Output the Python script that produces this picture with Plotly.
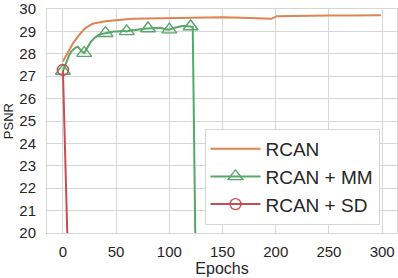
import plotly.graph_objects as go

# RCAN (orange)
rcan_epochs = [0, 2, 4, 6, 8, 10, 12, 14, 16, 18, 20, 22, 25, 28, 31, 35, 40, 45, 50, 55, 60, 66,
               75, 85, 95, 105, 115, 128, 140, 150, 160, 170, 180, 188, 196, 201, 210, 230, 250,
               270, 285, 299]
rcan_psnr = [27.66, 27.85, 28.02, 28.17, 28.35, 28.5, 28.65, 28.77, 28.88, 29.0, 29.1, 29.18, 29.27,
             29.34, 29.38, 29.42, 29.45, 29.47, 29.5, 29.52, 29.54, 29.56, 29.57, 29.58, 29.59, 29.6,
             29.6, 29.6, 29.62, 29.63, 29.62, 29.61, 29.6, 29.58, 29.56, 29.68, 29.69, 29.7, 29.71,
             29.71, 29.72, 29.72]

# RCAN + MM (green)
mm_epochs = [0, 2, 4, 6, 8, 10, 12, 14, 16, 18, 20, 22, 24, 26, 28, 30, 33, 36, 40, 44, 48, 52, 56,
             60, 64, 68, 72, 76, 80, 84, 88, 92, 96, 100, 104, 108, 112, 116, 120, 122, 125]
mm_psnr = [27.23, 27.5, 27.7, 27.95, 28.12, 28.22, 28.28, 28.32, 28.2, 28.1, 28.03, 28.2, 28.38,
           28.52, 28.62, 28.72, 28.82, 28.88, 28.92, 28.96, 28.99, 29.0, 29.03, 29.0, 29.05, 29.06,
           29.1, 29.12, 29.13, 29.14, 29.18, 29.16, 29.1, 29.08, 29.15, 29.2, 29.24, 29.24, 29.22,
           29.2, 17.5]
mm_marker_epochs = [0, 20, 40, 60, 80, 100, 120]

# RCAN + SD (red)
sd_epochs = [0, 5]
sd_psnr = [27.28, 18.4]
sd_marker_epochs = [0]

x_ticks = [0, 50, 100, 150, 200, 250, 300]
y_ticks = [20, 21, 22, 23, 24, 25, 26, 27, 28, 29, 30]

ORANGE = "#dd8452"
GREEN = "#55a868"
RED = "#c44e52"
FONT = "Liberation Sans, Arial, sans-serif"
TXT = "#262626"


def pick(xs, ys, marks):
    px = [x for x in xs if x in marks]
    py = [y for x, y in zip(xs, ys) if x in marks]
    return px, py


fig = go.Figure()
fig.add_trace(go.Scatter(x=rcan_epochs, y=rcan_psnr, mode="lines", name="RCAN",
                         line=dict(color=ORANGE, width=2)))

# MM line + markers
fig.add_trace(go.Scatter(x=mm_epochs, y=mm_psnr, mode="lines", showlegend=False,
                         line=dict(color=GREEN, width=2)))
mx, my = pick(mm_epochs, mm_psnr, mm_marker_epochs)
fig.add_trace(go.Scatter(x=mx, y=my, mode="markers", showlegend=False,
                         marker=dict(symbol="triangle-up-open", color=GREEN, size=13,
                                     line=dict(width=1.4, color=GREEN))))
fig.add_trace(go.Scatter(x=[None], y=[None], mode="lines+markers", name="RCAN + MM",
                         line=dict(color=GREEN, width=2),
                         marker=dict(symbol="triangle-up-open", color=GREEN, size=13,
                                     line=dict(width=1.4, color=GREEN))))

# SD line + markers
fig.add_trace(go.Scatter(x=sd_epochs, y=sd_psnr, mode="lines", showlegend=False,
                         line=dict(color=RED, width=2)))
sx, sy = pick(sd_epochs, sd_psnr, sd_marker_epochs)
fig.add_trace(go.Scatter(x=sx, y=sy, mode="markers", showlegend=False,
                         marker=dict(symbol="circle-open", color=RED, size=11,
                                     line=dict(width=1.4, color=RED))))
fig.add_trace(go.Scatter(x=[None], y=[None], mode="lines+markers", name="RCAN + SD",
                         line=dict(color=RED, width=2),
                         marker=dict(symbol="circle-open", color=RED, size=11,
                                     line=dict(width=1.4, color=RED))))

axis_common = dict(showgrid=True, gridcolor="#d6d6d6", gridwidth=1, showline=True,
                   linecolor="#d6d6d6", linewidth=1, mirror=True, zeroline=False,
                   ticks="outside", tickcolor="rgba(0,0,0,0)", ticklabeloverflow="allow",
                   tickfont=dict(family=FONT, size=15, color=TXT))

fig.update_layout(
    width=398, height=278,
    margin=dict(l=47, r=0, t=5, b=45),
    paper_bgcolor="white", plot_bgcolor="white",
    font=dict(family=FONT, color=TXT),
    xaxis=dict(range=[-14.95, 313.95], tickvals=x_ticks, ticklen=5,
               title=dict(text="Epochs", font=dict(family=FONT, size=16, color=TXT),
                          standoff=2),
               **axis_common),
    yaxis=dict(range=[20, 30], tickvals=y_ticks, ticklen=7, **axis_common),
    legend=dict(x=0.45, y=0.465, xanchor="left", yanchor="top",
                bgcolor="white", bordercolor="#d6d6d6", borderwidth=1,
                font=dict(family=FONT, size=19, color=TXT),
                itemwidth=50),
    annotations=[dict(text="PSNR", textangle=-90, xref="paper", yref="paper",
                      x=-0.111, y=0.5, xanchor="center", yanchor="middle", showarrow=False,
                      font=dict(family=FONT, size=13, color=TXT))],
)

fig.write_html("out.html", config={"displayModeBar": False},
               post_script="document.body.style.margin='0';")
